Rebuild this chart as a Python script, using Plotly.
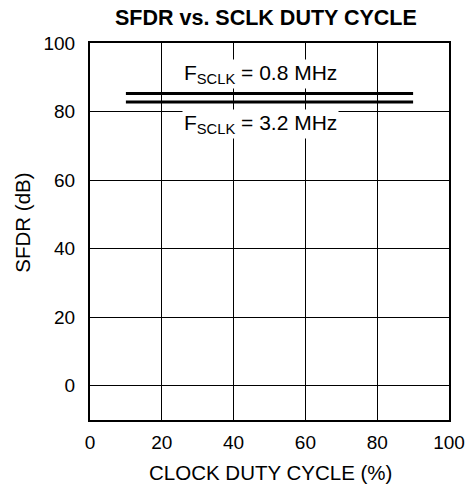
import plotly.graph_objects as go

duty_cycle = [10, 30, 50, 70, 90]
sfdr_08mhz = [85.3, 85.3, 85.2, 85.3, 85.3]
sfdr_32mhz = [82.8, 82.8, 82.8, 82.8, 82.8]
x_ticks = [0, 20, 40, 60, 80, 100]
y_ticks = [0, 20, 40, 60, 80, 100]

FONT = "Liberation Sans, Arial, sans-serif"

fig = go.Figure()
fig.add_trace(go.Scatter(x=duty_cycle, y=sfdr_08mhz, mode="lines",
                         line=dict(color="black", width=3), showlegend=False))
fig.add_trace(go.Scatter(x=duty_cycle, y=sfdr_32mhz, mode="lines",
                         line=dict(color="black", width=3), showlegend=False))

fig.add_annotation(x=47.6, y=91, xref="x", yref="y",
                   text="F<sub>SCLK</sub> = 0.8 MHz", showarrow=False,
                   font=dict(size=21, color="black", family=FONT), bgcolor="white")
fig.add_annotation(x=47.6, y=76.3, xref="x", yref="y",
                   text="F<sub>SCLK</sub> = 3.2 MHz", showarrow=False,
                   font=dict(size=21, color="black", family=FONT), bgcolor="white")

# title
fig.add_annotation(x=0.49, y=1.066, xref="paper", yref="paper",
                   text="<b>SFDR vs. SCLK DUTY CYCLE</b>", showarrow=False,
                   xanchor="center", yanchor="middle",
                   font=dict(size=21.5, color="black", family=FONT))
# axis titles
fig.add_annotation(x=0.504, y=-0.138, xref="paper", yref="paper",
                   text="CLOCK DUTY CYCLE (%)", showarrow=False,
                   xanchor="center", yanchor="middle", borderpad=0,
                   font=dict(size=20.5, color="black", family=FONT))
fig.add_annotation(x=-0.187, y=0.523, xref="paper", yref="paper",
                   text="SFDR (dB)", showarrow=False, textangle=-90,
                   xanchor="center", yanchor="middle",
                   font=dict(size=20.5, color="black", family=FONT))

fig.update_layout(
    width=470, height=485,
    margin=dict(l=90, r=21, t=43, b=65, autoexpand=False),
    paper_bgcolor="white", plot_bgcolor="white",
    font=dict(family=FONT, size=19, color="black"),
    xaxis=dict(range=[0, 100], tickvals=x_ticks, showgrid=True, gridcolor="black",
               gridwidth=1, zeroline=False, showline=True, linecolor="black",
               linewidth=2, mirror=True, ticks="", ticklen=0,
               automargin=False, ticklabelstandoff=4,
               tickfont=dict(size=19)),
    yaxis=dict(range=[-10, 100], tickvals=y_ticks, showgrid=True, gridcolor="black",
               gridwidth=1, zeroline=False, showline=True, linecolor="black",
               linewidth=2, mirror=True, ticks="", ticklen=0,
               automargin=False, ticklabelstandoff=9,
               tickfont=dict(size=19)),
)

fig.write_html("out.html", config={"displayModeBar": False},
               post_script="document.body.style.margin='0';")
